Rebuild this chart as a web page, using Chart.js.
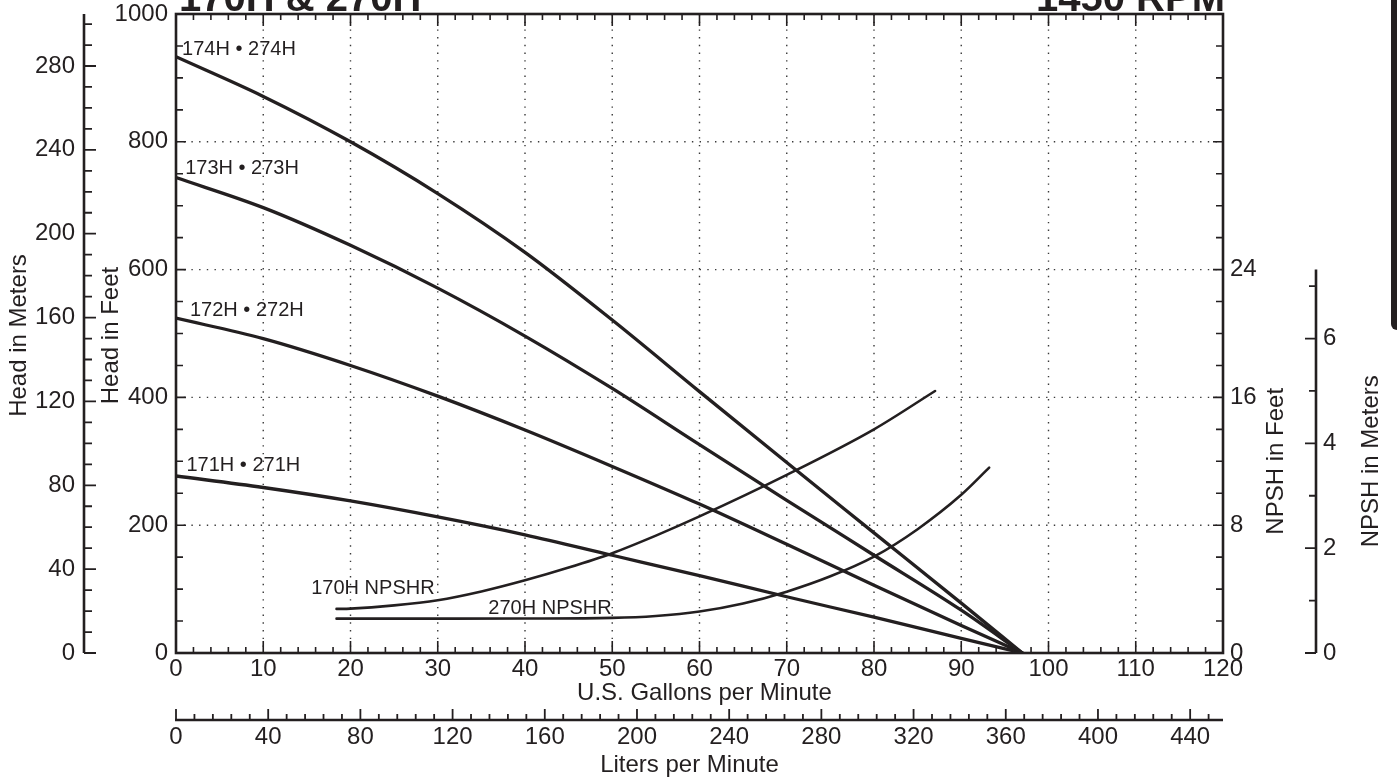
<!DOCTYPE html>
<html><head><meta charset="utf-8">
<script src="https://cdn.jsdelivr.net/npm/chart.js@4.4.0/dist/chart.umd.min.js"></script>
<style>html,body{margin:0;padding:0;background:#fff;overflow:hidden}</style>
</head><body>
<canvas id="c" width="1397" height="782"></canvas>
<script>
// ---------- DATA ----------
const gpmTicks = [0,10,20,30,40,50,60,70,80,90,100,110,120];
const lpmTicks = [0,40,80,120,160,200,240,280,320,360,400,440];
const ftTicks = [0,200,400,600,800,1000];
const mTicks = [0,40,80,120,160,200,240,280];
const npshFtTicks = [0,8,16,24];
const npshMTicks = [0,2,4,6];

const headGpm = [0,10,20,30,40,50,60,70,80,90,97];
const head174 = [933,871,800,719,627,521,409,298,188,78,0];
const head173 = [744,697,638,571,496,414,326,239,153,67,0];
const head172 = [524,492,450,402,349,292,233,170,106,43,0];
const head171 = [277,259,238,213,185,153,121,88,56,23,0];

const npsh170Gpm = [18.4,20,25,30,35,40,45,50,55,60,70,80,87];
const npsh170Ft  = [2.76,2.78,2.98,3.3,3.85,4.55,5.35,6.25,7.35,8.55,11.15,14.0,16.4];
const npsh270Gpm = [18.4,30,40,50,55,60,65,70,75,80,85,90,93.2];
const npsh270Ft  = [2.15,2.15,2.16,2.2,2.32,2.6,3.1,3.84,4.8,6.03,7.75,9.9,11.6];

const curveNames = ['174H \u2022 274H','173H \u2022 273H','172H \u2022 272H','171H \u2022 271H'];
const npshNames = ['170H NPSHR','270H NPSHR'];

// ---------- STYLE / LAYOUT ----------
const INK = '#231f20';
const FONT = '"Liberation Sans", Arial, Helvetica, sans-serif';
const GAL_TO_L = 3.78541, FT_TO_M = 0.3048, NPSH_FT_MAX = 40;

const pts = (xs, ys) => xs.map((x,i)=>({x, y: ys[i]}));
const headSets = [head174, head173, head172, head171];

const datasets = headSets.map((h,i)=>({
  label: curveNames[i], data: pts(headGpm, h), xAxisID:'x', yAxisID:'y',
  borderColor: INK, borderWidth: 3.3, pointRadius: 0, fill:false,
  cubicInterpolationMode:'monotone', borderCapStyle:'round'
})).concat([
  {label:npshNames[0], data: pts(npsh170Gpm, npsh170Ft), xAxisID:'x', yAxisID:'yN',
   borderColor: INK, borderWidth: 2.6, pointRadius:0, fill:false, cubicInterpolationMode:'monotone', borderCapStyle:'round'},
  {label:npshNames[1], data: pts(npsh270Gpm, npsh270Ft), xAxisID:'x', yAxisID:'yN',
   borderColor: INK, borderWidth: 2.6, pointRadius:0, fill:false, cubicInterpolationMode:'monotone', borderCapStyle:'round'}
]);

// label anchor positions (gpm, head ft)
const curveLabelPos = [[0.7,944],[1.05,758],[1.6,536],[1.2,294]];
const npshLabelPos = [[15.5,101],[35.8,70]];

const tickFont = {family: FONT, size: 24, lineHeight: 1};
function fixed(list){ return sc => { sc.ticks = list.map(v=>({value:v})); }; }
function fitV(w){ return sc => { sc.width = w; sc.paddingTop = 0; sc.paddingBottom = 0; }; }
function fitH(h){ return sc => { sc.height = h; sc.paddingLeft = 0; sc.paddingRight = 0; }; }
const plain = v => String(v);
const noGrid = {display:false, drawTicks:false};

const decor = {
  id:'decor',
  beforeDatasetsDraw(chart){
    const {ctx, chartArea:a, scales:s} = chart;
    ctx.save();
    ctx.strokeStyle = '#3a3a3a'; ctx.lineWidth = 1.4; ctx.setLineDash([1.4, 6.3]);
    gpmTicks.forEach(v=>{ if(v===0||v===120) return;
      const x = s.x.getPixelForValue(v);
      ctx.beginPath(); ctx.moveTo(x, a.top); ctx.lineTo(x, a.bottom); ctx.stroke(); });
    ftTicks.forEach(v=>{ if(v===0||v===1000) return;
      const y = s.y.getPixelForValue(v);
      ctx.beginPath(); ctx.moveTo(a.left, y); ctx.lineTo(a.right, y); ctx.stroke(); });
    ctx.restore();
  },
  afterDatasetsDraw(chart){
    const {ctx, chartArea:a, scales:s} = chart;
    ctx.save();
    ctx.strokeStyle = INK; ctx.fillStyle = INK; ctx.lineCap='butt';
    // plot frame
    ctx.lineWidth = 2.6;
    ctx.strokeRect(a.left, a.top, a.right-a.left, a.bottom-a.top);
    ctx.lineWidth = 1.6;
    ctx.beginPath();
    for(let v=0; v<=120; v+=2){
      const x = s.x.getPixelForValue(v), L = v%10===0 ? 12 : 6;
      ctx.moveTo(x, a.top); ctx.lineTo(x, a.top+L);
      ctx.moveTo(x, a.bottom); ctx.lineTo(x, a.bottom-L);
    }
    for(let v=0; v<=1000; v+=50){
      const y = s.y.getPixelForValue(v), L = v%200===0 ? 10 : 7;
      ctx.moveTo(a.left, y); ctx.lineTo(a.left+L, y);
    }
    for(let v=0; v<=NPSH_FT_MAX; v+=2){
      const y = s.yN.getPixelForValue(v), L = v%8===0 ? 10 : 7;
      ctx.moveTo(a.right, y); ctx.lineTo(a.right-L, y);
    }
    ctx.stroke();
    // meters axis
    const mx = s.yM.right;
    ctx.lineWidth = 2.6;
    ctx.beginPath(); ctx.moveTo(mx, s.yM.getPixelForValue(1000*FT_TO_M)); ctx.lineTo(mx, a.bottom); ctx.stroke();
    ctx.lineWidth = 1.8; ctx.beginPath();
    for(let v=0; v<=300; v+=10){
      const y = s.yM.getPixelForValue(v), L = v%40===0 ? 12 : 8;
      ctx.moveTo(mx, y); ctx.lineTo(mx+L, y);
    }
    ctx.stroke();
    // npsh meters axis
    const nx = s.yNM.left;
    ctx.lineWidth = 2.6;
    ctx.beginPath(); ctx.moveTo(nx, s.yNM.getPixelForValue(24*FT_TO_M)); ctx.lineTo(nx, a.bottom); ctx.stroke();
    ctx.lineWidth = 1.8; ctx.beginPath();
    for(let v=0; v<=7; v+=1){
      const y = s.yNM.getPixelForValue(v), L = v%2===0 ? 11 : 7;
      ctx.moveTo(nx, y); ctx.lineTo(nx-L, y);
    }
    ctx.stroke();
    // liters axis
    const ly = s.xL.top;
    ctx.lineWidth = 2.6;
    ctx.beginPath(); ctx.moveTo(s.xL.getPixelForValue(0)-1, ly); ctx.lineTo(s.xL.getPixelForValue(120*GAL_TO_L), ly); ctx.stroke();
    ctx.lineWidth = 1.8; ctx.beginPath();
    for(let v=0; v<=448; v+=8){
      const x = s.xL.getPixelForValue(v), L = v%40===0 ? 11 : 6;
      ctx.moveTo(x, ly); ctx.lineTo(x, ly-L);
    }
    ctx.stroke();

    // curve labels
    ctx.textBaseline = 'middle'; ctx.textAlign = 'left';
    ctx.font = '20px ' + FONT;
    curveNames.forEach((t,i)=>{
      const [gx, hf] = curveLabelPos[i];
      ctx.fillText(t, s.x.getPixelForValue(gx), s.y.getPixelForValue(hf));
    });
    npshNames.forEach((t,i)=>{
      const [gx, hf] = npshLabelPos[i];
      ctx.fillText(t, s.x.getPixelForValue(gx), s.y.getPixelForValue(hf));
    });

    // axis titles
    ctx.font = '24px ' + FONT;
    const cy = (a.top + a.bottom)/2;
    const vtitle = (t, x, y) => { ctx.save(); ctx.translate(x, y); ctx.rotate(-Math.PI/2);
      ctx.textAlign='center'; ctx.textBaseline='middle'; ctx.fillText(t, 0, 0); ctx.restore(); };
    vtitle('Head in Meters', s.yM.left + 19, cy + 2);
    vtitle('Head in Feet', s.y.left + 27, cy + 2);
    vtitle('NPSH in Feet', s.yN.left + 53, s.yN.getPixelForValue(12));
    vtitle('NPSH in Meters', s.yNM.left + 55, s.yN.getPixelForValue(12));
    ctx.textAlign='center'; ctx.textBaseline='middle';
    ctx.fillText('U.S. Gallons per Minute', (a.left+a.right)/2 + 5, s.x.top + 40);
    ctx.fillText('Liters per Minute', (a.left+a.right)/2 - 10, s.xL.top + 45);

    // header
    ctx.font = 'bold 40px ' + FONT;
    ctx.textBaseline = 'alphabetic';
    ctx.textAlign = 'left'; ctx.fillText('170H & 270H', a.left + 3, 11);
    ctx.textAlign = 'right'; ctx.fillText('1450 RPM', a.right + 2, 11);

    // edge tab
    ctx.beginPath();
    ctx.moveTo(1391, 0); ctx.lineTo(1397, 0); ctx.lineTo(1397, 330);
    ctx.arcTo(1391, 330, 1391, 320, 6); ctx.closePath(); ctx.fill();
    ctx.restore();
  }
};

new Chart(document.getElementById('c'), {
  type: 'line',
  data: { datasets },
  plugins: [decor],
  options: {
    responsive: false, animation: false, devicePixelRatio: 1,
    layout: { padding: { top: 14, left: 0, right: 0, bottom: 0 } },
    plugins: { legend: {display:false}, tooltip: {enabled:false}, title:{display:false} },
    scales: {
      x: { type:'linear', position:'bottom', weight:0, min:0, max:120,
        afterBuildTicks: fixed(gpmTicks), afterFit: fitH(67),
        grid: noGrid, border:{display:false},
        ticks: { font: tickFont, color: INK, padding: 4, autoSkip:false, maxRotation:0, callback: plain } },
      xL: { type:'linear', position:'bottom', weight:1, min:0, max:120*GAL_TO_L,
        afterBuildTicks: fixed(lpmTicks), afterFit: fitH(62),
        grid: noGrid, border:{display:false},
        ticks: { font: tickFont, color: INK, padding: 5, autoSkip:false, maxRotation:0, callback: plain } },
      y: { type:'linear', position:'left', weight:0, min:0, max:1000,
        afterBuildTicks: fixed(ftTicks), afterFit: fitV(92),
        grid: noGrid, border:{display:false},
        ticks: { font: tickFont, color: INK, padding: 8, autoSkip:false, callback: plain } },
      yM: { type:'linear', position:'left', weight:1, min:0, max:1000*FT_TO_M,
        afterBuildTicks: fixed(mTicks), afterFit: fitV(84),
        grid: noGrid, border:{display:false},
        ticks: { font: tickFont, color: INK, padding: 9, autoSkip:false, callback: plain } },
      yN: { type:'linear', position:'right', weight:0, min:0, max:NPSH_FT_MAX,
        afterBuildTicks: fixed(npshFtTicks), afterFit: fitV(93),
        grid: noGrid, border:{display:false},
        ticks: { font: tickFont, color: INK, padding: 7, autoSkip:false, callback: plain } },
      yNM: { type:'linear', position:'right', weight:1, min:0, max:NPSH_FT_MAX*FT_TO_M,
        afterBuildTicks: fixed(npshMTicks), afterFit: fitV(81),
        grid: noGrid, border:{display:false},
        ticks: { font: tickFont, color: INK, padding: 7, autoSkip:false, callback: plain } }
    }
  }
});
</script>
</body></html>
